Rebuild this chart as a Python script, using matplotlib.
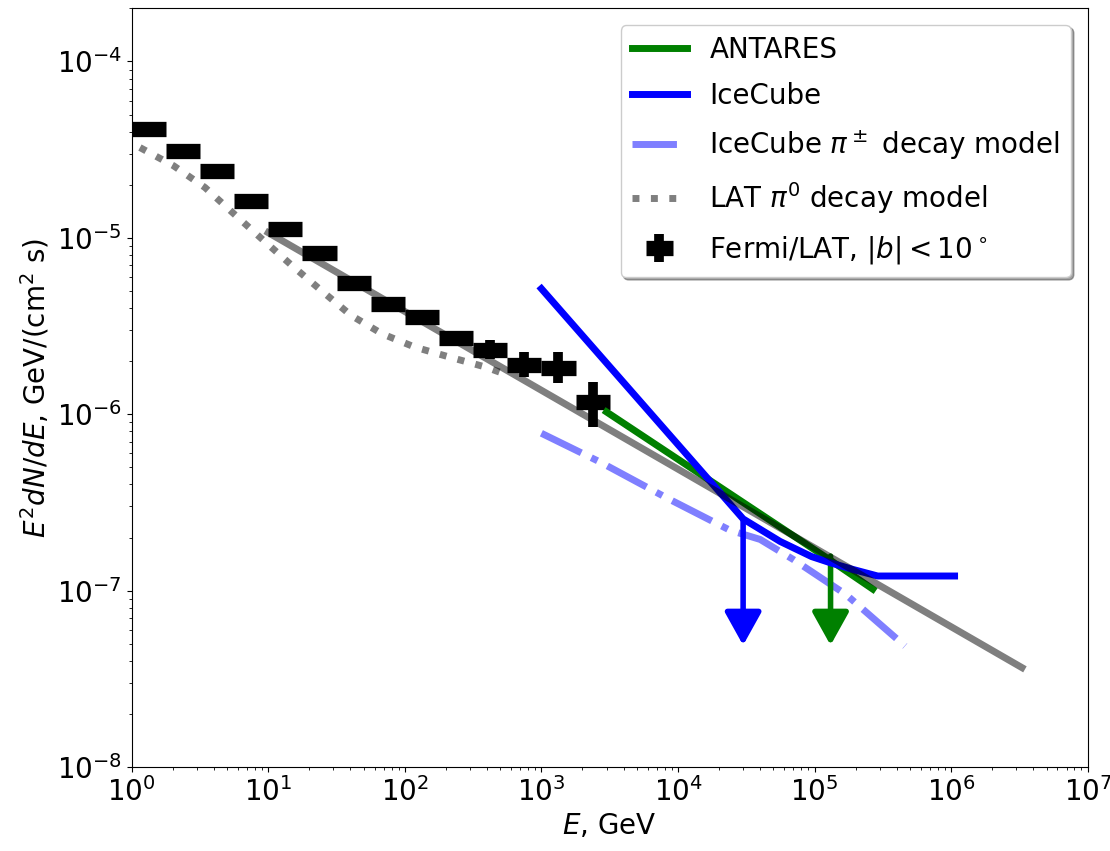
import matplotlib
matplotlib.use("Agg")
import matplotlib.pyplot as plt
from matplotlib.legend_handler import HandlerTuple
import numpy as np

# ---------------- data ----------------
# Fermi/LAT |b|<10 deg, quarter-decade energy bins (GeV)
fermi_e_lo = [1.0, 1.778, 3.162, 5.623, 10.0, 17.78, 31.62, 56.23, 100.0, 177.8, 316.2, 562.3, 1000.0, 1778.0]
fermi_e_hi = [1.778, 3.162, 5.623, 10.0, 17.78, 31.62, 56.23, 100.0, 177.8, 316.2, 562.3, 1000.0, 1778.0, 3162.0]
fermi_flux = [4.13e-5, 3.10e-5, 2.38e-5, 1.61e-5, 1.12e-5, 8.19e-6, 5.52e-6,
              4.24e-6, 3.58e-6, 2.69e-6, 2.32e-6, 1.91e-6, 1.84e-6, 1.18e-6]
fermi_err_lo = [1.2e-6, 0.9e-6, 0.7e-6, 0.5e-6, 0.34e-6, 0.25e-6, 0.17e-6,
                0.13e-6, 0.11e-6, 0.08e-6, 0.27e-6, 0.29e-6, 0.34e-6, 0.33e-6]
fermi_err_hi = [1.2e-6, 0.9e-6, 0.7e-6, 0.5e-6, 0.34e-6, 0.25e-6, 0.17e-6,
                0.13e-6, 0.11e-6, 0.08e-6, 0.31e-6, 0.34e-6, 0.42e-6, 0.34e-6]

# LAT pi0 decay model
lat_e = [1.15, 2.03, 3.44, 5.54, 9.06, 14.8, 24.3, 40.3, 68.0, 118.5, 212.0, 391.0, 497.0]
lat_f = [3.25e-5, 2.56e-5, 1.93e-5, 1.38e-5, 9.8e-6, 7.0e-6, 5.05e-6, 3.64e-6,
         2.86e-6, 2.40e-6, 2.11e-6, 1.85e-6, 1.73e-6]

# power-law fit (grey line)
fit_e = [10.0, 3.3e6]
fit_f = [1.07e-5, 3.66e-8]

# IceCube pi+- decay model
icm_e = [1.0e3, 2.7e3, 8.3e3, 2.4e4, 4.0e4, 7.0e4, 1.7e5, 4.6e5]
icm_f = [7.8e-7, 5.35e-7, 3.35e-7, 2.2e-7, 1.95e-7, 1.5e-7, 9.5e-8, 4.85e-8]

# IceCube
ic_e = [1.0e3, 3.0e4, 5.6e4, 9.5e4, 1.3e5, 1.9e5, 2.9e5, 1.06e6]
ic_f = [5.15e-6, 2.55e-7, 1.9e-7, 1.56e-7, 1.44e-7, 1.32e-7, 1.21e-7, 1.21e-7]
ic_ul_e = 3.0e4
ic_ul_f = [2.55e-7, 4.9e-8]

# ANTARES
ant_e = [3.0e3, 1.3e5, 2.67e5]
ant_f = [1.03e-6, 1.49e-7, 1.02e-7]
ant_ul_e = 1.31e5
ant_ul_f = [1.57e-7, 4.9e-8]

# axis ticks
x_ticks = [1e0, 1e1, 1e2, 1e3, 1e4, 1e5, 1e6, 1e7]
y_ticks = [1e-8, 1e-7, 1e-6, 1e-5, 1e-4]

legend_labels = ["ANTARES", "IceCube", r"IceCube $\pi^\pm$ decay model",
                 r"LAT $\pi^0$ decay model", r"Fermi/LAT, $|b|<10^\circ$"]

# ---------------- plot ----------------
plt.rcParams["font.family"] = ["DejaVu Sans"]
plt.rcParams["font.size"] = 20
plt.rcParams["mathtext.fontset"] = "dejavusans"

fig = plt.figure(figsize=(11.1, 8.51), dpi=100)
ax = fig.add_axes([0.1186, 0.0987, 0.8613, 0.8915])

lo = np.array(fermi_e_lo)
hi = np.array(fermi_e_hi)
ec = np.sqrt(lo * hi)
fl = np.array(fermi_flux)

eb_x = ax.errorbar(ec, fl, xerr=[ec - lo, hi - ec], fmt="none", ecolor="k",
                   elinewidth=11, capsize=0, zorder=3)
eb_y = ax.errorbar(ec, fl, yerr=[fermi_err_lo, fermi_err_hi], fmt="none", ecolor="k",
                   elinewidth=7, capsize=0, zorder=3)

l_lat, = ax.plot(lat_e, lat_f, ":", color="k", alpha=0.5, lw=5, zorder=2)
l_icm, = ax.plot(icm_e, icm_f, "-.", color="b", alpha=0.5, lw=5, zorder=2)
l_ant, = ax.plot(ant_e, ant_f, "-", color="green", lw=5, zorder=4)
ax.annotate("", xy=(ant_ul_e, ant_ul_f[1]), xytext=(ant_ul_e, ant_ul_f[0]),
            arrowprops=dict(arrowstyle="-|>,head_length=0.45,head_width=0.25",
                            mutation_scale=45, color="green",
                            lw=4, shrinkA=0, shrinkB=0), zorder=4)
l_ic, = ax.plot(ic_e, ic_f, "-", color="b", lw=5, zorder=5)
ax.annotate("", xy=(ic_ul_e, ic_ul_f[1]), xytext=(ic_ul_e, ic_ul_f[0]),
            arrowprops=dict(arrowstyle="-|>,head_length=0.45,head_width=0.25",
                            mutation_scale=45, color="b",
                            lw=4, shrinkA=0, shrinkB=0), zorder=5)
ax.plot(fit_e, fit_f, "-", color="k", alpha=0.5, lw=5, zorder=6)

ax.set_xscale("log")
ax.set_yscale("log")
ax.set_xticks(x_ticks)
ax.set_yticks(y_ticks)
ax.set_xlim(1, 1e7)
ax.set_ylim(1e-8, 2.0e-4)
ax.set_xlabel(r"$E$, GeV")
ax.set_ylabel(r"$E^2dN/dE$, GeV/(cm$^2$ s)")
ax.tick_params(which="both", top=False, right=False, labelsize=20)

ax.legend([l_ant, l_ic, l_icm, l_lat, (eb_x, eb_y)], legend_labels,
          handler_map={tuple: HandlerTuple(ndivide=1)},
          loc="upper right", fontsize=20, shadow=True, handlelength=2.0,
          labelspacing=0.65, borderaxespad=0.6)

fig.savefig("out.png", dpi=100)
